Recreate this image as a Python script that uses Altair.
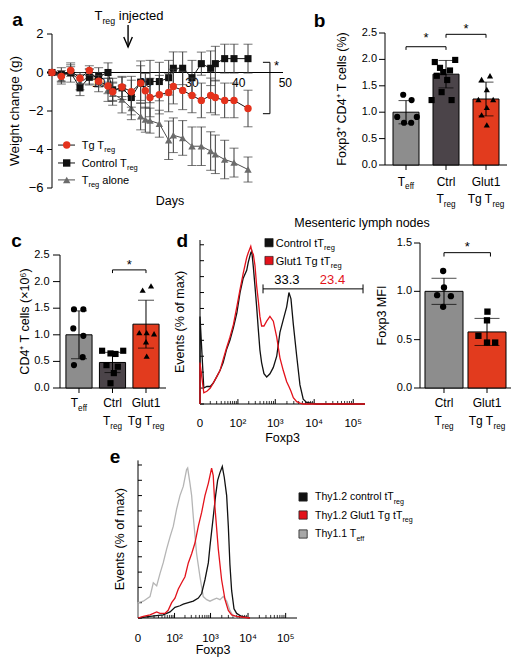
import altair as alt
import pandas as pd

FONT = "Liberation Sans"
M = 8                      # page margin: view coords = page coords - M
VW, VH = 505, 654

BLACK = "#111111"
RED_PT = "#e4321c"
RED_BAR = "#e23b1e"
RED_HIST = "#e3121b"
GRAY_BAR = "#8d8d8d"
DARK_BAR = "#4b4449"
GRAY_PT = "#6b6b6b"
GRAY_LINE = "#4d4d4d"
ERR = "#3a3a3a"
GRAY_HIST = "#b5b5b5"

# ================= DATA =================
# (a) weight change (g) over days
a_days_tg = [0, 2, 4, 6, 8, 10, 12, 13, 15, 17, 19, 20, 21, 23, 25, 26, 28, 30, 32, 34, 35, 37, 39, 42]
a_w_tg = [0, -0.2, 0.1, -0.3, 0.1, -0.45, -0.7, -1.0, -0.75, -1.0, -0.55, -0.95, -1.3, -1.15, -1.04,
          -0.73, -0.93, -1.19, -1.45, -1.19, -1.3, -1.45, -1.45, -1.87]
a_e_tg = [0.05, 0.3, 0.2, 0.3, 0.25, 0.3, 0.4, 0.45, 0.5, 0.8, 0.9, 0.9, 1.0, 1.0, 1.0, 0.9, 1.0,
          0.9, 0.9, 0.9, 0.9, 0.9, 0.9, 0.95]
a_days_ct = [0, 2, 4, 6, 8, 10, 12, 13, 15, 17, 19, 21, 23, 25, 26, 28, 30, 32, 34, 35, 37, 39, 42]
a_w_ct = [0, -0.1, 0, -0.8, -0.25, -0.2, 0, -0.9, -0.8, -1.3, -0.5, -0.47, -0.47, -0.27, 0.22, 0.22,
          -0.27, 0.46, 0.22, 0.46, 0.72, 0.72, 0.72]
a_e_ct = [0.05, 0.35, 0.5, 0.4, 0.4, 0.45, 0.5, 0.6, 0.6, 0.9, 1.1, 1.1, 1.0, 0.9, 0.85, 0.85, 0.9,
          0.6, 0.9, 0.9, 0.75, 0.75, 0.75]
a_days_al = [0, 2, 4, 6, 8, 10, 12, 13, 15, 17, 19, 20, 21, 23, 25, 26, 28, 30, 32, 34, 35, 37, 39, 42]
a_w_al = [0, -0.3, 0.1, -0.5, -0.2, -0.5, -0.9, -1.1, -1.4, -1.85, -2.28, -2.45, -2.5, -2.66, -3.52,
          -3.26, -3.4, -3.83, -3.83, -4.08, -4.25, -4.52, -4.68, -5.04]
a_e_al = [0.05, 0.3, 0.3, 0.4, 0.4, 0.5, 0.6, 0.6, 0.7, 0.6, 0.7, 0.65, 0.65, 0.7, 1.0, 0.9, 0.9,
          1.0, 1.0, 1.0, 1.0, 1.0, 0.75, 0.65]
a_yticks = [-6, -4, -2, 0, 2]
a_ylabels = ["\u22126", "\u22124", "\u22122", "0", "2"]
a_day_ticks = [10, 20, 30, 40, 50]
a_inject_day = 16.3

# (b) Foxp3+ CD4+ T cells (%)
b_pos = [0, 1, 2]
b_mean = [1.0, 1.72, 1.25]
b_sd = [0.22, 0.26, 0.32]
b_pt_grp = [0] * 6 + [1] * 10 + [2] * 8
b_pt_jit = [-0.07, 0.14, -0.22, -0.05, 0.13, 0.27,
            -0.28, 0.23, -0.15, -0.07, 0.1, -0.23, 0.03, -0.11, -0.36, 0.14,
            -0.11, 0.1, 0.02, -0.19, 0.18, 0.02, -0.11, 0.02]
b_pt_val = [1.33, 1.23, 0.91, 0.80, 0.80, 0.91,
            1.95, 1.99, 1.84, 1.76, 1.79, 1.69, 1.61, 1.38, 1.23, 1.23,
            1.62, 1.69, 1.43, 1.24, 1.24, 1.09, 0.95, 0.76]
bc_yticks = [0, 0.5, 1.0, 1.5, 2.0, 2.5]
bc_ylabels = ["0.0", "0.5", "1.0", "1.5", "2.0", "2.5"]

# (c) CD4+ T cells (x10^6)
c_mean = [1.0, 0.48, 1.2]
c_sd = [0.45, 0.19, 0.45]
c_pt_grp = [0] * 6 + [1] * 8 + [2] * 7
c_pt_jit = [-0.15, 0.13, -0.17, 0.13, 0.11, -0.15,
            -0.31, -0.06, 0.09, 0.32, -0.18, 0.16, 0.04, -0.06,
            -0.1, 0.15, -0.2, 0.02, 0.24, 0.0, 0.02]
c_pt_val = [1.48, 1.48, 1.12, 0.98, 0.58, 0.43,
            0.70, 0.65, 0.64, 0.70, 0.43, 0.40, 0.28, 0.09,
            1.84, 1.92, 1.04, 1.04, 1.02, 0.87, 0.60]

# (d) Foxp3 MFI
db_pos = [0, 1]
db_mean = [1.0, 0.58]
db_sd = [0.135, 0.14]
db_pt_grp = [0] * 5 + [1] * 5
db_pt_jit = [-0.02, 0.0, -0.16, 0.16, -0.02, 0.01, 0.0, -0.2, 0.0, 0.19]
db_pt_val = [1.21, 1.04, 0.96, 0.95, 0.84, 0.79, 0.70, 0.54, 0.47, 0.47]
db_yticks = [0, 0.5, 1.0, 1.5]
db_ylabels = ["0.0", "0.5", "1.0", "1.5"]

# (d) histogram (Foxp3 intensity, % of max)
d_x = [0, 0, 3, 6, 10, 14, 20, 27, 35, 45, 58, 74, 93, 115, 141, 176, 194, 227, 241, 266, 294, 326,
       360, 397, 440, 508, 598, 727, 890, 1090, 1320, 1610, 1970, 2250, 2540, 2920, 3570, 4320,
       5240, 6400, 11600, 200000]
d_ctrl = [0, 55, 10, 11, 11, 13, 17, 21, 26, 34, 40, 48, 57, 70, 79, 84, 89, 95, 96, 86, 74, 61,
          47, 34, 26, 19, 17, 19, 23, 30, 45, 53, 61, 70, 66, 50, 30, 12, 3, 1, 0, 0]
d_tg = [0, 26, 7, 8, 10, 13, 17, 21, 28, 35, 42, 50, 61, 72, 82, 92, 95, 99, 96, 94, 87, 74,
        65, 55, 49, 49, 52, 55, 52, 42, 29, 21, 14, 11, 8, 4, 1.5, 0.5, 0, 0, 0, 0]
d_gate = [480, 178000]
d_gate_pct = ["33.3", "23.4"]

# (e) histogram
e_gray_x = [0, 0, 4.6, 13, 18.6, 25.6, 34, 44, 57, 73, 92, 115, 144, 179, 222, 238, 276, 307, 341,
            420, 518, 636, 788, 966, 1182, 1460, 1790, 2190, 2700, 3300, 4070, 4980]
e_gray_y = [0, 10, 11, 14, 23, 21, 29, 36, 45, 53, 60, 71, 80, 86, 97, 98, 88, 80, 66, 42, 27, 14,
            12, 11, 12, 13, 12, 14, 11, 5, 1, 0]
e_red_x = [0, 4.6, 13, 25.6, 34, 50, 64, 82, 103, 129, 161, 200, 248, 307, 378, 468, 576, 708, 872,
           1068, 1182, 1308, 1615, 1980, 2440, 2990, 3660, 4980, 7440, 11200]
e_red_y = [0, 1, 2, 4, 3, 3, 5, 10, 13, 19, 23, 27, 36, 42, 49, 60, 69, 80, 88, 98, 93, 73, 45, 25,
           12, 5, 2, 1, 0.5, 0]
e_blk_x = [0, 13, 44, 73, 103, 144, 179, 248, 341, 468, 576, 708, 872, 966, 1182, 1368, 1550, 1790,
           2065, 2330, 2700, 2990, 3300, 3660, 4240, 4980, 6750, 11200]
e_blk_y = [0, 1, 2, 4, 7, 8, 9, 10, 11, 13, 16, 25, 36, 47, 66, 80, 90, 95, 99, 92, 80, 60, 35, 18,
           6, 3, 1, 0]

hist_major = [0, 100, 1000, 10000, 100000]
hist_major_lab = ["0", "10\u00b2", "10\u00b3", "10\u2074", "10\u2075"]
hist_minor = [10, 20, 30, 40, 50, 60, 70, 80, 90] + [k * 100 for k in range(2, 10)] + \
             [k * 1000 for k in range(2, 10)] + [k * 10000 for k in range(2, 10)]
hist_pct_ticks = list(range(0, 101, 10))

# ================= helpers =================
CW = dict(zip("abcdefghijklmnopqrstuvwxyz",
              [0.556, 0.556, 0.5, 0.556, 0.556, 0.278, 0.556, 0.556, 0.222, 0.222, 0.5, 0.222, 0.833,
               0.556, 0.556, 0.556, 0.556, 0.333, 0.5, 0.278, 0.556, 0.5, 0.722, 0.5, 0.5, 0.5]))
CW.update({' ': 0.278, '.': 0.278, 'C': 0.722, 'G': 0.778, 'T': 0.611, 'M': 0.833, 'D': 0.722, '*': 0.389})
for _d in "0123456789":
    CW[_d] = 0.556


def tw(s, fs):
    return sum(CW.get(c, 0.6) for c in s) * fs


class Panel:
    def __init__(self, xdom, xpx, ydom, ypx, symlog=None):
        self.xdom, self.xpx, self.ydom, self.ypx = xdom, xpx, ydom, ypx
        if symlog:
            self.sx = alt.Scale(type='symlog', constant=symlog, domain=xdom,
                                range=[xpx[0] - M, xpx[1] - M], nice=False)
        else:
            self.sx = alt.Scale(domain=xdom, range=[xpx[0] - M, xpx[1] - M], nice=False, zero=False)
        self.sy = alt.Scale(domain=ydom, range=[ypx[0] - M, ypx[1] - M], nice=False, zero=False)
        self.layers = []

    def ppx(self):
        return (self.xpx[1] - self.xpx[0]) / (self.xdom[1] - self.xdom[0])

    def ppy(self):
        return (self.ypx[0] - self.ypx[1]) / (self.ydom[1] - self.ydom[0])

    def X(self, f='x'):
        return alt.X(f, type='quantitative', scale=self.sx, axis=None)

    def Y(self, f='y'):
        return alt.Y(f, type='quantitative', scale=self.sy, axis=None)

    def add(self, *ls):
        self.layers.extend(ls)

    def text(self, x, y, segs, fs, align='center', dy=0.0, color='black', weight='normal', sub=0.68, subdy=0.3):
        df = pd.DataFrame({'x': [x], 'y': [y]})
        parts = []
        for t, k in segs:
            s = fs if k == 'n' else round(fs * sub, 1)
            parts.append((t, k, s, tw(t, s)))
        total = sum(p[3] for p in parts)
        cur = {'center': -total / 2, 'left': 0.0, 'right': -total}[align]
        for t, k, s, w in parts:
            lead = len(t) - len(t.lstrip(' '))
            core = t.strip(' ')
            start = cur + tw(' ' * lead, s)
            if core:
                self.layers.append(
                    alt.Chart(df).mark_text(text=core, align='left', baseline='alphabetic', dx=round(start, 2),
                                            dy=round(dy + (subdy * fs if k == 's' else 0), 2), fontSize=s,
                                            font=FONT, color=color, fontWeight=weight)
                    .encode(x=self.X(), y=self.Y()))
            cur += w

    def hrule(self, x1, x2, y, color='black', width=1.0):
        df = pd.DataFrame({'x': [x1], 'x2': [x2], 'y': [y]})
        self.add(alt.Chart(df).mark_rule(color=color, strokeWidth=width)
                 .encode(x=self.X(), x2=alt.X2('x2'), y=self.Y()))

    def vrule(self, x, y1, y2, color='black', width=1.0):
        df = pd.DataFrame({'x': [x], 'y': [y1], 'y2': [y2]})
        self.add(alt.Chart(df).mark_rule(color=color, strokeWidth=width)
                 .encode(x=self.X(), y=self.Y(), y2=alt.Y2('y2')))

    def left_axis(self, x_at, y0, y1, values, labels, fs, tick_px, lab_dx, title, tfs, title_dy):
        self.vrule(x_at, y0, y1)
        n = len(values)
        if tick_px:
            dxu = tick_px / self.ppx()
            df = pd.DataFrame({'x': [x_at] * n, 'x2': [x_at - dxu] * n, 'y': values})
            self.add(alt.Chart(df).mark_rule(color='black', strokeWidth=1)
                     .encode(x=self.X(), x2=alt.X2('x2'), y=self.Y()))
        if labels:
            df = pd.DataFrame({'x': [x_at] * n, 'y': values, 'lab': labels})
            self.add(alt.Chart(df).mark_text(align='right', baseline='middle', dx=lab_dx, fontSize=fs,
                                             font=FONT, color='black')
                     .encode(x=self.X(), y=self.Y(), text='lab:N'))
        if title:
            df = pd.DataFrame({'x': [x_at], 'y': [(y0 + y1) / 2]})
            self.add(alt.Chart(df).mark_text(text=title, angle=270, align='center', baseline='middle',
                                             dy=title_dy, fontSize=tfs, font=FONT, color='black')
                     .encode(x=self.X(), y=self.Y()))

    def bottom_axis(self, x0, x1, y_at, ticks, tick_px):
        self.hrule(x0, x1, y_at)
        n = len(ticks)
        dyu = tick_px / self.ppy()
        df = pd.DataFrame({'x': ticks, 'y': [y_at] * n, 'y2': [y_at - dyu] * n})
        self.add(alt.Chart(df).mark_rule(color='black', strokeWidth=1)
                 .encode(x=self.X(), y=self.Y(), y2=alt.Y2('y2')))

    def bracket(self, x1, x2, y, drop, star_x=None, star_dy=-2, fs=13):
        self.hrule(x1, x2, y)
        self.vrule(x1, y, y - drop)
        self.vrule(x2, y, y - drop)
        sx = (x1 + x2) / 2 if star_x is None else star_x
        self.text(sx, y, [("*", 'n')], fs, dy=star_dy)

    def chart(self):
        return alt.layer(*self.layers)


def bar_panel(P, pos, mean, sd, colors, half, cap, grp, jit, val, shapes, psize):
    bars = pd.DataFrame({'x1': [p - half for p in pos], 'x2': [p + half for p in pos],
                         'y0': [0] * len(pos), 'm': mean, 'col': colors})
    P.add(alt.Chart(bars).mark_rect(stroke='black', strokeWidth=1)
          .encode(x=P.X('x1'), x2=alt.X2('x2'), y=P.Y('y0'), y2=alt.Y2('m'),
                  fill=alt.Fill('col:N', scale=None)))
    eb = pd.DataFrame({'x': pos, 'lo': [m - s for m, s in zip(mean, sd)], 'hi': [m + s for m, s in zip(mean, sd)]})
    P.add(alt.Chart(eb).mark_rule(color='black', strokeWidth=1).encode(x=P.X(), y=P.Y('lo'), y2=alt.Y2('hi')))
    for f in ('lo', 'hi'):
        P.add(alt.Chart(eb).mark_tick(color='black', orient='horizontal', size=cap, thickness=1)
              .encode(x=P.X(), y=P.Y(f)))
    pts = pd.DataFrame({'x': [pos[g] + j for g, j in zip(grp, jit)], 'y': val, 'shp': [shapes[g] for g in grp]})
    P.add(alt.Chart(pts).mark_point(filled=True, color='black', size=psize, opacity=1)
          .encode(x=P.X(), y=P.Y(), shape=alt.Shape('shp:N', scale=None)))


def cat_labels(P, pos, line1, line2, dy1, dy2, fs=12):
    for p, l1, l2 in zip(pos, line1, line2):
        if l1:
            P.text(p, 0, l1, fs, dy=dy1)
        if l2:
            P.text(p, 0, l2, fs, dy=dy2)


# ================= PANEL A =================
A = Panel([0, 48], (52, 276), [-6, 2], (188, 34))
A.left_axis(0, -6, 2, a_yticks, a_ylabels, 13, 5, -8.5, 'Weight change (g)', 13.5, -37)
A.hrule(0, 49.5, 0)
dt = pd.DataFrame({'x': a_day_ticks, 'y': [0] * len(a_day_ticks), 'lab': [str(d) for d in a_day_ticks]})
A.add(alt.Chart(dt).mark_text(baseline='alphabetic', dy=14.5, fontSize=12, font=FONT, color='black')
      .encode(x=A.X(), y=A.Y(), text='lab:N'))


def series(P, days, vals, errs, color, line_color, shape, size):
    df = pd.DataFrame({'x': days, 'y': vals, 'lo': [v - e for v, e in zip(vals, errs)],
                       'hi': [v + e for v, e in zip(vals, errs)]})
    P.add(alt.Chart(df).mark_rule(color=ERR, strokeWidth=1).encode(x=P.X(), y=P.Y('lo'), y2=alt.Y2('hi')))
    for f in ('lo', 'hi'):
        P.add(alt.Chart(df).mark_tick(color=ERR, orient='horizontal', size=9, thickness=1)
              .encode(x=P.X(), y=P.Y(f)))
    P.add(alt.Chart(df).mark_line(color=line_color, strokeWidth=1).encode(x=P.X(), y=P.Y()))
    P.add(alt.Chart(df).mark_point(filled=True, shape=shape, size=size, color=color, opacity=1)
          .encode(x=P.X(), y=P.Y()))


series(A, a_days_al, a_w_al, a_e_al, GRAY_PT, GRAY_LINE, 'triangle-up', 55)
series(A, a_days_ct, a_w_ct, a_e_ct, BLACK, BLACK, 'square', 50)
series(A, a_days_tg, a_w_tg, a_e_tg, RED_PT, BLACK, 'circle', 55)

# legend (a)
leg_y = [-3.77, -4.70, -5.58]
leg_col = [RED_PT, BLACK, GRAY_PT]
leg_line = [BLACK, BLACK, GRAY_LINE]
leg_shape = ['circle', 'square', 'triangle-up']
leg_txt = [[("Tg T", 'n'), ("reg", 's')], [("Control T", 'n'), ("reg", 's')],
           [("T", 'n'), ("reg", 's'), (" alone", 'n')]]
for yv, c, lc, shp, segs in zip(leg_y, leg_col, leg_line, leg_shape, leg_txt):
    A.hrule(1.29, 4.93, yv, color=lc)
    A.add(alt.Chart(pd.DataFrame({'x': [3.15], 'y': [yv]}))
          .mark_point(filled=True, shape=shp, size=55, color=c, opacity=1).encode(x=A.X(), y=A.Y()))
    A.text(6.36, yv, segs, 11, align='left', dy=4)

# significance bracket (a)
A.vrule(46.7, 0.53, -2.14)
A.hrule(45.2, 46.7, 0.53)
A.hrule(45.2, 46.7, -2.14)
A.text(48.1, 0.13, [("*", 'n')], 13)

# T_reg injected + arrow
A.text(16.5, 2.73, [("T", 'n'), ("reg", 's'), (" injected", 'n')], 13)
A.vrule(a_inject_day, 2.47, 1.32, width=1.4)
arrow = pd.DataFrame({'x': [a_inject_day - 0.92, a_inject_day, a_inject_day + 0.92],
                      'y': [1.84, 1.32, 1.84], 'i': [0, 1, 2]})
A.add(alt.Chart(arrow).mark_line(color='black', strokeWidth=1.4)
      .encode(x=A.X(), y=A.Y(), order='i:Q'))
A.text(25.3, -6.86, [("Days", 'n')], 12.5)
A.text(-7.39, 2.44, [("a", 'n')], 19, weight='bold')

# ================= PANEL B =================
B = Panel([-0.525, 2.525], (385, 507), [0, 2.5], (165, 33))
B.left_axis(-0.525, 0, 2.5, bc_yticks, bc_ylabels, 11, 6, -8, 'Foxp3\u207a CD4\u207a T cells (%)', 12.5, -43.3)
B.bottom_axis(-0.525, 2.525, 0, b_pos, 5)
bar_panel(B, b_pos, b_mean, b_sd, [GRAY_BAR, DARK_BAR, RED_BAR], 0.325, 15, b_pt_grp, b_pt_jit, b_pt_val,
          ['circle', 'square', 'triangle-up'], 38)
B.bracket(0, 1, 2.24, 0.06, star_dy=-5)
B.bracket(1, 2, 2.475, 0.065, star_dy=-1)
lab1 = [[("T", 'n'), ("eff", 's')], [("Ctrl", 'n')], [("Glut1", 'n')]]
lab2 = [None, [("T", 'n'), ("reg", 's')], [("Tg T", 'n'), ("reg", 's')]]
cat_labels(B, b_pos, lab1, lab2, 20.5, 38)
B.text(-2.175, 2.62, [("b", 'n')], 19, weight='bold')

# ================= PANEL C =================
C = Panel([-0.567, 2.597], (60, 166), [0, 2.5], (388, 255))
C.left_axis(-0.567, 0, 2.5, bc_yticks, bc_ylabels, 11, 7, -10.5, 'CD4\u207a T cells (\u00d710\u2076)', 12.5, -35)
C.bottom_axis(-0.567, 2.597, 0, b_pos, 5)
bar_panel(C, b_pos, c_mean, c_sd, [GRAY_BAR, DARK_BAR, RED_BAR], 0.39, 16, c_pt_grp, c_pt_jit, c_pt_val,
          ['circle', 'square', 'triangle-up'], 38)
C.bracket(1, 2, 2.22, 0.06, star_dy=-1)
cat_labels(C, b_pos, lab1, lab2, 19, 37)
C.text(-1.88, 2.656, [("c", 'n')], 19, weight='bold')

# ================= PANEL D (histogram) =================
DH = Panel([0, 200000], (200, 365), [0, 103], (404, 240), symlog=12)


def hist_axes(P, ytick_x2, major_len, minor_len, lab_dy, title_x, title_dy, ytitle_dy):
    P.hrule(0, 200000, 0)
    P.vrule(0, 0, 103)
    yt = pd.DataFrame({'x': [0] * len(hist_pct_ticks), 'x2': [ytick_x2] * len(hist_pct_ticks), 'y': hist_pct_ticks})
    P.add(alt.Chart(yt).mark_rule(color='black', strokeWidth=1).encode(x=P.X(), x2=alt.X2('x2'), y=P.Y()))
    mj = pd.DataFrame({'x': hist_major[1:], 'y': [0] * 4, 'y2': [major_len] * 4})
    P.add(alt.Chart(mj).mark_rule(color='black', strokeWidth=1).encode(x=P.X(), y=P.Y(), y2=alt.Y2('y2')))
    mn = pd.DataFrame({'x': hist_minor, 'y': [0] * len(hist_minor), 'y2': [minor_len] * len(hist_minor)})
    P.add(alt.Chart(mn).mark_rule(color='black', strokeWidth=0.8).encode(x=P.X(), y=P.Y(), y2=alt.Y2('y2')))
    lb = pd.DataFrame({'x': hist_major, 'y': [0] * 5, 'lab': hist_major_lab})
    P.add(alt.Chart(lb).mark_text(baseline='alphabetic', dy=lab_dy, fontSize=11.5, font=FONT, color='black')
          .encode(x=P.X(), y=P.Y(), text='lab:N'))
    P.text(title_x, 0, [("Foxp3", 'n')], 12.5, dy=title_dy)
    df = pd.DataFrame({'x': [0], 'y': [51.5]})
    P.add(alt.Chart(df).mark_text(text='Events (% of max)', angle=270, align='center', baseline='middle',
                                  dy=ytitle_dy, fontSize=12.5, font=FONT, color='black')
          .encode(x=P.X(), y=P.Y()))


def curve(P, xs, ys, color, width=1.3):
    df = pd.DataFrame({'x': xs, 'y': ys, 'i': list(range(len(xs)))})
    P.add(alt.Chart(df).mark_line(color=color, strokeWidth=width)
          .encode(x=P.X(), y=P.Y(), order='i:Q'))


hist_axes(DH, 3.2, 3.1, 1.9, 23, 1540, 38, -20)
curve(DH, d_x, d_ctrl, BLACK)
curve(DH, d_x, d_tg, RED_HIST)
DH.hrule(d_gate[0], d_gate[1], 72.3)
DH.vrule(d_gate[0], 75.1, 69.5)
DH.vrule(d_gate[1], 75.1, 69.5)
DH.text(2000, 72.3, [(d_gate_pct[0], 'n')], 13, dy=-5)
DH.text(29500, 72.3, [(d_gate_pct[1], 'n')], 13, dy=-5, color=RED_HIST)
dleg = pd.DataFrame({'x': [688, 688], 'y': [101.3, 90.1], 'c': [BLACK, RED_HIST]})
DH.add(alt.Chart(dleg).mark_point(shape='square', filled=True, size=68, opacity=1, stroke='#111111', strokeWidth=0.6)
       .encode(x=DH.X(), y=DH.Y(), fill=alt.Fill('c:N', scale=None)))
DH.text(1026, 101.3, [("Control tT", 'n'), ("reg", 's')], 11, align='left', dy=4)
DH.text(1026, 90.1, [("Glut1 Tg tT", 'n'), ("reg", 's')], 11, align='left', dy=4)
DH.text(-23.3, 98.9, [("d", 'n')], 19, weight='bold')

# ================= PANEL D (bars) =================
DB = Panel([-0.558, 1.558], (420, 511), [0, 1.5], (388, 243))
DB.left_axis(-0.558, 0, 1.5, db_yticks, db_ylabels, 11, 6, -8, 'Foxp3 MFI', 12.5, -38.3)
DB.bottom_axis(-0.558, 1.558, 0, db_pos, 5)
bar_panel(DB, db_pos, db_mean, db_sd, [GRAY_BAR, RED_BAR], 0.442, 25, db_pt_grp, db_pt_jit, db_pt_val,
          ['circle', 'square'], 40)
DB.bracket(0, 1.08, 1.40, 0.04, star_x=0.54, star_dy=-2)
cat_labels(DB, db_pos, [[("Ctrl", 'n')], [("Glut1", 'n')]],
           [[("T", 'n'), ("reg", 's')], [("Tg T", 'n'), ("reg", 's')]], 19, 37)
DB.text(-1.907, 1.665, [("Mesenteric lymph nodes", 'n')], 12.5)

# ================= PANEL E =================
E = Panel([0, 200000], (138, 297), [0, 103], (618, 460.4), symlog=12)
hist_axes(E, 3.3, 3.3, 2.0, 23.5, 1164, 36, -18)
curve(E, e_gray_x, e_gray_y, GRAY_HIST)
curve(E, e_blk_x, e_blk_y, BLACK)
curve(E, e_red_x, e_red_y, RED_HIST)
eleg = pd.DataFrame({'x': [290000] * 3, 'y': [79.1, 67.3, 54.9], 'c': [BLACK, RED_HIST, "#a8a8a8"]})
E.add(alt.Chart(eleg).mark_point(shape='square', filled=True, size=68, opacity=1, stroke='#222222', strokeWidth=0.8)
      .encode(x=E.X(), y=E.Y(), fill=alt.Fill('c:N', scale=None)))
e_leg_txt = [[("Thy1.2 control tT", 'n'), ("reg", 's')], [("Thy1.2 Glut1 Tg tT", 'n'), ("reg", 's')],
             [("Thy1.1 T", 'n'), ("eff", 's')]]
for yv, segs in zip([79.1, 67.3, 54.9], e_leg_txt):
    E.text(600000, yv, segs, 10.5, align='left', dy=3.5)
E.text(-37, 101.3, [("e", 'n')], 19, weight='bold')

# ================= COMPOSE =================
chart = (alt.layer(A.chart(), B.chart(), C.chart(), DH.chart(), DB.chart(), E.chart())
         .resolve_scale(x='independent', y='independent')
         .properties(width=VW, height=VH, padding=0, autosize=alt.AutoSizeParams(type='none'))
         .configure_view(stroke=None)
         .configure_text(font=FONT))

chart.save("out.html", embed_options={"renderer": "svg", "actions": False})
